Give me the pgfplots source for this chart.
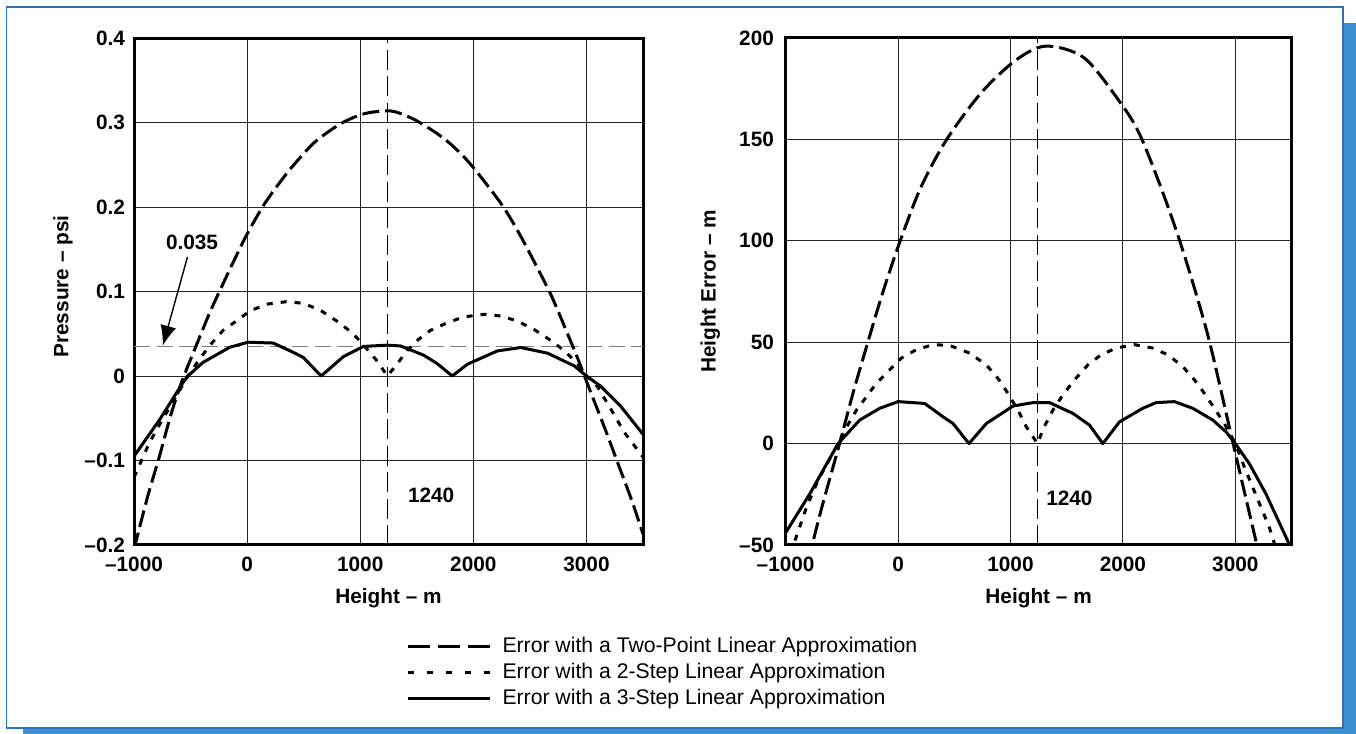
\documentclass[border=0pt]{standalone}
\usepackage{fontspec}
\setmainfont{Liberation Sans}
\usepackage{pgfplots}
\pgfplotsset{compat=1.18}
\usetikzlibrary{arrows.meta}

\definecolor{frameblue}{RGB}{38,115,195}
\definecolor{shadowblue}{RGB}{61,143,207}
\definecolor{refgray}{RGB}{125,125,125}

\newcommand{\lblfont}{\fontsize{10.4pt}{12pt}\selectfont\bfseries}

\tikzset{
  marker line/.style={black, line width=0.7pt, dash pattern=on 10pt off 3.2pt},
}

\pgfplotsset{
  errpanel/.style={
    scale only axis,
    height=253.5pt,
    anchor=south west,
    xmin=-1000, xmax=3500,
    xtick={-1000,0,1000,2000,3000},
    xticklabels={–1000,0,1000,2000,3000},
    grid=major,
    major grid style={black!85, line width=0.5pt},
    axis line style={black, line width=1.5pt},
    major tick length=0pt,
    tick label style={font=\lblfont},
    xticklabel style={yshift=-2.3pt},
    xlabel={Height – m},
    every axis x label/.style={at={(axis description cs:0.5,-0.1045)}, anchor=center, font=\lblfont},
  },
  twopoint/.style={black, line width=1.5pt, dash pattern=on 8.5pt off 3pt, smooth},
  twostep/.style={black, line width=1.5pt, dash pattern=on 3pt off 4pt},
  threestep/.style={black, line width=1.5pt, line join=round},
}

\begin{document}
\begin{tikzpicture}
\useasboundingbox (0pt,0pt) rectangle (678pt,367pt);
% page frame with drop shadow
\fill[shadowblue] (11.5pt,0pt) rectangle (678pt,355.6pt);
\filldraw[fill=white, draw=frameblue, line width=0.8pt] (3.25pt,3pt) rectangle (671.5pt,363.5pt);

% ---------------- pressure error ----------------
\begin{axis}[errpanel,
  at={(67pt,94.5pt)}, width=254.5pt,
  ymin=-0.2, ymax=0.4,
  ytick={-0.2,-0.1,0,0.1,0.2,0.3,0.4},
  yticklabels={–0.2,–0.1,0,0.1,0.2,0.3,0.4},
  yticklabel style={xshift=-1pt},
  ylabel={Pressure – psi},
  every axis y label/.style={at={(axis description cs:-0.1395,0.51)}, rotate=90, anchor=center, font=\lblfont},
  legend image code/.code={\draw[#1] (0pt,0pt) -- (41pt,0pt);},
  legend style={draw=none, fill=none, inner sep=0pt, outer sep=0pt,
    at={(axis description cs:0.5354,-0.1815)}, anchor=north west,
    font=\fontsize{10.6pt}{12pt}\selectfont,
    row sep=3.3pt, column sep=5.5pt,
    nodes={inner sep=0pt, text height=7.5pt, text depth=2.2pt}},
  legend cell align=left,
]
% reference levels
\draw[refgray, line width=0.75pt, dash pattern=on 8pt off 3.3pt]
  (axis cs:-1000,0.035) -- (axis cs:3500,0.035);
\draw[marker line] (axis cs:1240,-0.2) -- (axis cs:1240,0.4);

% two-point linear approximation
\addplot[twopoint, forget plot] coordinates {
  (-1000,-0.205) (-880,-0.143) (-775,-0.095) (-670,-0.044) (-570,-0.004)
  (-450,0.036) (-330,0.075) (-210,0.110) (-100,0.141) (0,0.168)
  (150,0.203) (300,0.231) (420,0.251) (600,0.277) (820,0.298) (1000,0.309)
  (1150,0.313) (1300,0.313) (1500,0.302) (1750,0.280) (1960,0.253)
  (2240,0.205) (2400,0.170) (2570,0.127) (2690,0.095) (2805,0.059) (2925,0.020)
  (3040,-0.020) (3160,-0.061) (3280,-0.104) (3400,-0.147) (3500,-0.187)
};
% 2-step linear approximation
\addplot[twostep, forget plot] coordinates {
  (-1000,-0.120) (-864,-0.079) (-746,-0.051) (-627,-0.024) (-524,0)
  (-420,0.020) (-331,0.036) (-213,0.054) (-95,0.065) (24,0.077)
  (172,0.085) (349,0.088) (497,0.086) (645,0.078) (793,0.065)
  (911,0.053) (1000,0.041) (1059,0.032) (1148,0.018) (1240,0)
  (1325,0.014) (1414,0.030) (1503,0.042) (1621,0.054) (1769,0.063)
  (1917,0.070) (2095,0.073) (2243,0.071) (2391,0.065) (2538,0.055)
  (2686,0.042) (2805,0.030) (2923,0.014) (3000,0) (3095,-0.012)
  (3219,-0.040) (3337,-0.067) (3500,-0.096)
};
% 3-step linear approximation
\addplot[threestep, forget plot] coordinates {
  (-1000,-0.095) (-775,-0.052) (-568,-0.008) (-524,0) (-391,0.016)
  (-154,0.034) (9,0.040) (231,0.039) (408,0.028) (497,0.022)
  (654,0) (852,0.023) (1030,0.035) (1237,0.0365) (1355,0.0356)
  (1562,0.0246) (1680,0.0147) (1814,0) (1947,0.0139) (2213,0.0297)
  (2420,0.0337) (2657,0.027) (2893,0.0119) (3000,0) (3124,-0.0119)
  (3302,-0.0356) (3500,-0.069)
};

\addlegendimage{black, line width=1.5pt, dash pattern=on 11pt off 4pt}
\addlegendentry{Error with a Two-Point Linear Approximation}
\addlegendimage{black, line width=1.5pt, dash pattern=on 3pt off 6.5pt}
\addlegendentry{Error with a 2-Step Linear Approximation}
\addlegendimage{black, line width=1.5pt}
\addlegendentry{Error with a 3-Step Linear Approximation}

\draw[-{Latex[length=10pt,width=8pt]}, line width=0.7pt]
  (axis cs:-527,0.141) -- (axis cs:-745,0.036);
\node[font=\lblfont] at (axis cs:-487,0.158) {0.035};
\node[font=\lblfont] at (axis cs:1627,-0.141) {1240};
\end{axis}

% ---------------- height error ----------------
\begin{axis}[errpanel,
  at={(392.8pt,94.5pt)}, width=253pt,
  ymin=-50, ymax=200,
  ytick={-50,0,50,100,150,200},
  yticklabels={–50,0,50,100,150,200},
  yticklabel style={xshift=-2.3pt},
  ylabel={Height Error – m},
  every axis y label/.style={at={(axis description cs:-0.149,0.5)}, rotate=90, anchor=center, font=\lblfont},
]
\draw[marker line] (axis cs:1240,-50) -- (axis cs:1240,200);

% two-point linear approximation
\addplot[twopoint] coordinates {
  (-800,-58) (-755,-48) (-666,-29) (-520,0) (-400,25) (-295,45)
  (-150,72) (0,97) (200,126) (433,150) (740,173)
  (1046,189) (1315,196) (1660,190) (2004,166) (2157,151.5)
  (2340,126) (2502,100.5) (2650,74) (2780,48) (2980,0) (3183,-48) (3250,-63)
};
% 2-step linear approximation
\addplot[twostep] coordinates {
  (-1000,-68) (-918,-48) (-814,-31.4) (-711,-18) (-592,-6) (-533,0)
  (-474,6.6) (-370,16.5) (-281,23.1) (-192,29.8) (-89,35.5)
  (30,42.2) (163,46.3) (311,48.8) (459,48.4) (637,44.6)
  (785,38.8) (888,32.2) (977,24.8) (1066,16.5) (1140,8.3) (1240,0)
  (1300,8.3) (1377,16.5) (1466,24) (1569,31.4) (1688,38.8)
  (1806,43.8) (1940,47.1) (2102,48.8) (2265,47.1) (2399,43.8)
  (2532,38) (2636,31.4) (2724,24.8) (2813,17.4) (2902,9.9)
  (3000,0) (3080,-11.6) (3154,-21.5) (3228,-31.4) (3302,-41.3)
  (3340,-48) (3400,-58)
};
% 3-step linear approximation
\addplot[threestep] coordinates {
  (-1000,-44) (-785,-24.8) (-533,0) (-341,11.6) (-163,17.4)
  (0,20.7) (237,19.8) (400,13.2) (489,9.9) (631,0)
  (785,9.9) (1022,18.5) (1199,20.2) (1347,20.2) (1555,14.9)
  (1703,9.1) (1821,0) (1969,10.7) (2176,17.4) (2295,20.2)
  (2458,20.7) (2621,17.4) (2799,11.6) (2917,5.8) (3000,0)
  (3124,-9.9) (3272,-24.8) (3465,-47.9) (3490,-52)
};
\node[font=\lblfont] at (axis cs:1524,-26.8) {1240};
\end{axis}
\end{tikzpicture}
\end{document}
